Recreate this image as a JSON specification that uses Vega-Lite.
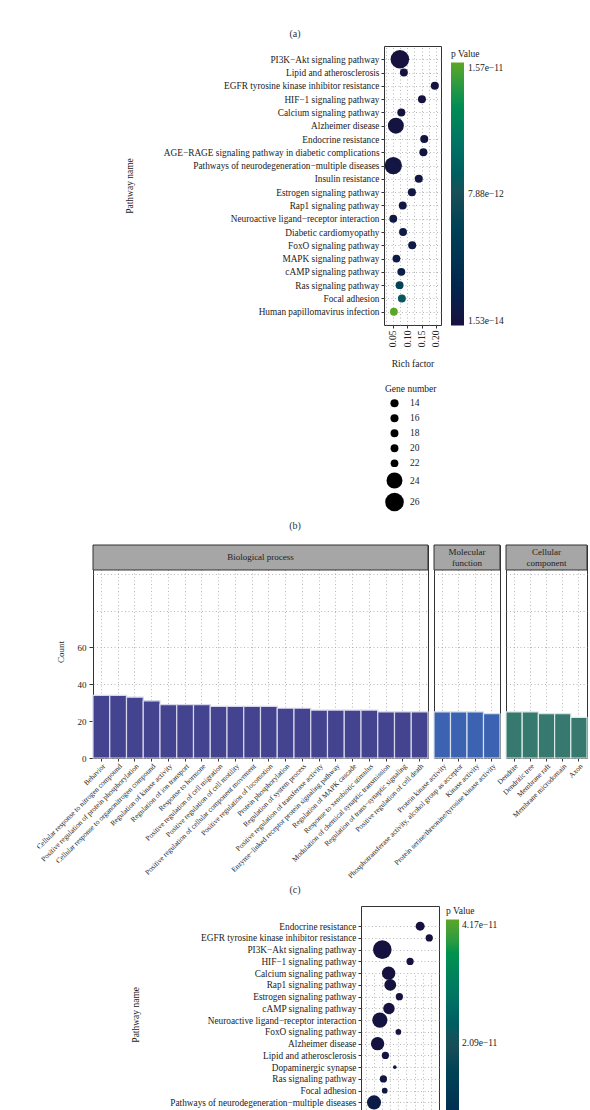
{
  "$schema": "https://vega.github.io/schema/vega-lite/v6.json",
  "background": "white",
  "padding": 0,
  "spacing": 0,
  "resolve": {"scale": {"color": "independent", "size": "independent"}, "legend": {"color": "independent", "size": "independent"}},
  "config": {
    "font": "Liberation Serif",
    "view": {"stroke": null},
    "axis": {"labelFont": "Liberation Serif", "titleFont": "Liberation Serif", "titleFontWeight": "normal", "labelColor": "#222", "titleColor": "#222", "tickColor": "#333", "domain": false, "gridColor": "#999", "gridDash": [1, 2.5], "gridWidth": 0.7},
    "legend": {"labelFont": "Liberation Serif", "titleFont": "Liberation Serif", "titleFontWeight": "normal", "labelColor": "#222", "titleColor": "#222"},
    "text": {"font": "Liberation Serif"}
  },
  "datasets": {
    "kegg_b": [
      {"pathway": "PI3K−Akt signaling pathway", "rich": 0.074, "p": 1.53e-14, "genes": 26},
      {"pathway": "Lipid and atherosclerosis", "rich": 0.088, "p": 1.0e-13, "genes": 18},
      {"pathway": "EGFR tyrosine kinase inhibitor resistance", "rich": 0.196, "p": 1.5e-13, "genes": 16},
      {"pathway": "HIF−1 signaling pathway", "rich": 0.151, "p": 2.0e-13, "genes": 16},
      {"pathway": "Calcium signaling pathway", "rich": 0.079, "p": 2.6e-13, "genes": 16},
      {"pathway": "Alzheimer disease", "rich": 0.060, "p": 3.1e-13, "genes": 24},
      {"pathway": "Endocrine resistance", "rich": 0.159, "p": 3.6e-13, "genes": 16},
      {"pathway": "AGE−RAGE signaling pathway in diabetic complications", "rich": 0.156, "p": 4.2e-13, "genes": 16},
      {"pathway": "Pathways of neurodegeneration−multiple diseases", "rich": 0.051, "p": 4.8e-13, "genes": 25},
      {"pathway": "Insulin resistance", "rich": 0.140, "p": 5.5e-13, "genes": 16},
      {"pathway": "Estrogen signaling pathway", "rich": 0.116, "p": 6.3e-13, "genes": 16},
      {"pathway": "Rap1 signaling pathway", "rich": 0.084, "p": 7.2e-13, "genes": 18},
      {"pathway": "Neuroactive ligand−receptor interaction", "rich": 0.051, "p": 8.1e-13, "genes": 20},
      {"pathway": "Diabetic cardiomyopathy", "rich": 0.085, "p": 9.2e-13, "genes": 18},
      {"pathway": "FoxO signaling pathway", "rich": 0.117, "p": 1.05e-12, "genes": 16},
      {"pathway": "MAPK signaling pathway", "rich": 0.062, "p": 1.2e-12, "genes": 20},
      {"pathway": "cAMP signaling pathway", "rich": 0.079, "p": 1.45e-12, "genes": 18},
      {"pathway": "Ras signaling pathway", "rich": 0.073, "p": 6.2e-12, "genes": 18},
      {"pathway": "Focal adhesion", "rich": 0.081, "p": 8.6e-12, "genes": 18},
      {"pathway": "Human papillomavirus infection", "rich": 0.053, "p": 1.57e-11, "genes": 20}
    ],
    "kegg_d": [
      {"pathway": "Endocrine resistance", "rich": 0.192, "p": 1.0e-14, "genes": 13},
      {"pathway": "EGFR tyrosine kinase inhibitor resistance", "rich": 0.220, "p": 3e-14, "genes": 10},
      {"pathway": "PI3K−Akt signaling pathway", "rich": 0.0755, "p": 5e-14, "genes": 40},
      {"pathway": "HIF−1 signaling pathway", "rich": 0.161, "p": 8e-14, "genes": 10},
      {"pathway": "Calcium signaling pathway", "rich": 0.095, "p": 1.2e-13, "genes": 23},
      {"pathway": "Rap1 signaling pathway", "rich": 0.100, "p": 1.8e-13, "genes": 19},
      {"pathway": "Estrogen signaling pathway", "rich": 0.128, "p": 2.5e-13, "genes": 10},
      {"pathway": "cAMP signaling pathway", "rich": 0.096, "p": 3.3e-13, "genes": 18},
      {"pathway": "Neuroactive ligand−receptor interaction", "rich": 0.068, "p": 4.2e-13, "genes": 28},
      {"pathway": "FoxO signaling pathway", "rich": 0.125, "p": 5.2e-13, "genes": 8},
      {"pathway": "Alzheimer disease", "rich": 0.061, "p": 6.5e-13, "genes": 23},
      {"pathway": "Lipid and atherosclerosis", "rich": 0.085, "p": 8e-13, "genes": 10},
      {"pathway": "Dopaminergic synapse", "rich": 0.114, "p": 1e-12, "genes": 6},
      {"pathway": "Ras signaling pathway", "rich": 0.079, "p": 1.3e-12, "genes": 10},
      {"pathway": "Focal adhesion", "rich": 0.083, "p": 1.7e-12, "genes": 8},
      {"pathway": "Pathways of neurodegeneration−multiple diseases", "rich": 0.050, "p": 3.2e-12, "genes": 25}
    ],
    "go": [
      {"cat": "BP", "term": "Behavior", "count": 34},
      {"cat": "BP", "term": "Cellular response to nitrogen compound", "count": 34},
      {"cat": "BP", "term": "Positive regulation of protein phosphorylation", "count": 33},
      {"cat": "BP", "term": "Cellular response to organonitrogen compound", "count": 31},
      {"cat": "BP", "term": "Regulation of kinase activity", "count": 29},
      {"cat": "BP", "term": "Regulation of ion transport", "count": 29},
      {"cat": "BP", "term": "Response to hormone", "count": 29},
      {"cat": "BP", "term": "Positive regulation of cell migration", "count": 28},
      {"cat": "BP", "term": "Positive regulation of cell motility", "count": 28},
      {"cat": "BP", "term": "Positive regulation of cellular component movement", "count": 28},
      {"cat": "BP", "term": "Positive regulation of locomotion", "count": 28},
      {"cat": "BP", "term": "Protein phosphorylation", "count": 27},
      {"cat": "BP", "term": "Regulation of system process", "count": 27},
      {"cat": "BP", "term": "Positive regulation of transferase activity", "count": 26},
      {"cat": "BP", "term": "Enzyme−linked receptor protein signaling pathway", "count": 26},
      {"cat": "BP", "term": "Regulation of MAPK cascade", "count": 26},
      {"cat": "BP", "term": "Response to xenobiotic stimulus", "count": 26},
      {"cat": "BP", "term": "Modulation of chemical synaptic transmission", "count": 25},
      {"cat": "BP", "term": "Regulation of trans−synaptic signaling", "count": 25},
      {"cat": "BP", "term": "Positive regulation of cell death", "count": 25},
      {"cat": "MF", "term": "Protein kinase activity", "count": 25},
      {"cat": "MF", "term": "Phosphotransferase activity, alcohol group as acceptor", "count": 25},
      {"cat": "MF", "term": "Kinase activity", "count": 25},
      {"cat": "MF", "term": "Protein serine/threonine/tyrosine kinase activity", "count": 24},
      {"cat": "CC", "term": "Dendrite", "count": 25},
      {"cat": "CC", "term": "Dendritic tree", "count": 25},
      {"cat": "CC", "term": "Membrane raft", "count": 24},
      {"cat": "CC", "term": "Membrane microdomain", "count": 24},
      {"cat": "CC", "term": "Axon", "count": 22}
    ]
  },
  "vconcat": [
    {"width": 590, "height": 22, "data": {"values": []}, "mark": "text", "encoding": {}},
    {"width": 590, "height": 23, "data": {"values": [{"label": "(a)"}]}, "mark": {"type": "text", "fontSize": 10, "color": "#333"}, "encoding": {"text": {"field": "label"}}},
    {
      "hconcat": [
        {"width": 384, "height": 472, "data": {"values": []}, "mark": "text", "encoding": {}},
        {
          "width": 57, "height": 279,
          "view": {"stroke": "#333", "strokeWidth": 1},
          "data": {"name": "kegg_b"},
          "mark": {"type": "circle", "opacity": 1},
          "encoding": {
            "x": {"field": "rich", "type": "quantitative",
              "scale": {"domain": [0.0186, 0.2175], "nice": false, "zero": false},
              "axis": {"title": "Rich factor", "values": [0.025, 0.05, 0.075, 0.1, 0.125, 0.15, 0.175, 0.2],
                "labelExpr": "abs(datum.value*20 - round(datum.value*20)) < 0.001 ? format(datum.value, '.2f') : ''",
                "tickOpacity": {"condition": {"test": "abs(datum.value*20 - round(datum.value*20)) > 0.001", "value": 0}, "value": 1},
                "labelAngle": 270, "labelFontSize": 9.5, "titleFontSize": 9.5, "tickSize": 3, "labelPadding": 2, "titlePadding": 12, "grid": true}},
            "y": {"field": "pathway", "type": "nominal", "sort": null,
              "scale": {"type": "point", "padding": 1.25},
              "axis": {"title": "Pathway name", "titleFontSize": 9.5, "titlePadding": 50, "labelFontSize": 9.3, "labelPadding": 2, "tickSize": 3, "labelLimit": 400, "grid": true}},
            "color": {"field": "p", "type": "quantitative",
              "scale": {"domain": [1.53e-14, 7.88e-12, 1.57e-11], "range": ["#16113e", "#1b4f57", "#5ba625"]},
              "legend": {"orient": "none", "legendX": 67, "legendY": 3, "title": "p Value", "titleFontSize": 9.5, "titlePadding": 4,
                "direction": "vertical", "gradientLength": 263, "gradientThickness": 13, "gradientStrokeWidth": 0,
                "values": [1.53e-14, 7.88e-12, 1.57e-11],
                "labelExpr": "replace(format(datum.value, '.2e'), '-', '−')", "labelFontSize": 9.5, "labelOffset": 4}},
            "size": {"field": "genes", "type": "quantitative",
              "scale": {"domain": [14, 22, 24, 26], "range": [66, 60, 254, 346], "zero": false},
              "legend": {"orient": "none", "legendX": 1, "legendY": 338, "title": "Gene number", "titleFontSize": 9.5,
                "values": [14, 16, 18, 20, 22, 24, 26], "symbolFillColor": "black", "symbolStrokeWidth": 0, "symbolOpacity": 1,
                "symbolType": "circle", "labelFontSize": 9.5, "labelOffset": 6, "rowPadding": 4, "direction": "vertical"}}
          }
        }
      ],
      "spacing": 0,
      "bounds": "flush",
      "resolve": {"scale": {"color": "independent", "size": "independent"}}
    },
    {"width": 590, "height": 16, "data": {"values": [{"label": "(b)"}]}, "mark": {"type": "text", "fontSize": 10, "color": "#333"}, "encoding": {"text": {"field": "label"}}},
    {"width": 590, "height": 10, "data": {"values": []}, "mark": "text", "encoding": {}},
    {
      "hconcat": [
        {"width": 87, "height": 333, "data": {"values": []}, "mark": "text", "encoding": {}},
        {
          "width": 335, "height": 213,
          "view": {"stroke": "#333", "strokeWidth": 1},
          "layer": [
            {
              "data": {"name": "go"},
              "transform": [{"filter": "datum.cat == 'BP'"}],
              "mark": {"type": "bar", "color": "#43438f", "stroke": "#d8d8ec", "strokeWidth": 1.2},
              "encoding": {
                "x": {"field": "term", "type": "nominal", "sort": null, "scale": {"paddingInner": 0, "paddingOuter": 0},
                  "axis": {"title": null, "labelAngle": -45, "labelFontSize": 7.3, "tickSize": 3, "labelPadding": 1, "grid": true, "labelLimit": 300}},
                "y": {"field": "count", "type": "quantitative", "scale": {"domain": [0, 115.56], "nice": false},
                  "axis": {"title": "Count", "values": [0, 10, 20, 30, 40, 50, 60, 70, 80, 90, 100],
                    "labelExpr": "datum.value <= 60 && datum.value % 20 == 0 ? datum.label : ''",
                    "tickOpacity": {"condition": {"test": "datum.value > 60 || datum.value % 20 != 0", "value": 0}, "value": 1},
                    "titleFontSize": 9, "labelFontSize": 9, "titlePadding": 12, "tickSize": 4, "labelPadding": 3, "grid": true}}
              }
            },
            {
              "data": {"values": [{"strip": "Biological process"}]},
              "mark": {"type": "rect", "fill": "#a6a6a6", "stroke": "#333", "strokeWidth": 1},
              "encoding": {"y": {"datum": 102, "type": "quantitative"}, "y2": {"datum": 115.56}}
            },
            {
              "data": {"values": [{"strip": "Biological process"}]},
              "mark": {"type": "text", "fontSize": 9, "color": "#222"},
              "encoding": {"text": {"field": "strip"}, "y": {"datum": 108.8, "type": "quantitative"}}
            }
          ]
        },
        {
          "width": 66, "height": 213,
          "view": {"stroke": "#333", "strokeWidth": 1},
          "layer": [
            {
              "data": {"name": "go"},
              "transform": [{"filter": "datum.cat == 'MF'"}],
              "mark": {"type": "bar", "color": "#3b63b1", "stroke": "#d8e0f0", "strokeWidth": 1.2},
              "encoding": {
                "x": {"field": "term", "type": "nominal", "sort": null, "scale": {"paddingInner": 0, "paddingOuter": 0},
                  "axis": {"title": null, "labelAngle": -45, "labelFontSize": 7.3, "tickSize": 3, "labelPadding": 1, "grid": true, "labelLimit": 300}},
                "y": {"field": "count", "type": "quantitative", "scale": {"domain": [0, 115.56], "nice": false},
                  "axis": {"title": null, "values": [0, 10, 20, 30, 40, 50, 60, 70, 80, 90, 100], "labels": false, "ticks": false, "grid": true}}
              }
            },
            {
              "data": {"values": [{"strip": "Molecular\nfunction"}]},
              "mark": {"type": "rect", "fill": "#a6a6a6", "stroke": "#333", "strokeWidth": 1},
              "encoding": {"y": {"datum": 102, "type": "quantitative"}, "y2": {"datum": 115.56}}
            },
            {
              "data": {"values": [{"strip": "Molecular\nfunction"}]},
              "mark": {"type": "text", "fontSize": 9, "color": "#222", "lineBreak": "\n", "lineHeight": 11},
              "encoding": {"text": {"field": "strip"}, "y": {"datum": 111.8, "type": "quantitative"}}
            }
          ]
        },
        {
          "width": 81, "height": 213,
          "view": {"stroke": "#333", "strokeWidth": 1},
          "layer": [
            {
              "data": {"name": "go"},
              "transform": [{"filter": "datum.cat == 'CC'"}],
              "mark": {"type": "bar", "color": "#37796f", "stroke": "#d8ece8", "strokeWidth": 1.2},
              "encoding": {
                "x": {"field": "term", "type": "nominal", "sort": null, "scale": {"paddingInner": 0, "paddingOuter": 0},
                  "axis": {"title": null, "labelAngle": -45, "labelFontSize": 7.3, "tickSize": 3, "labelPadding": 1, "grid": true, "labelLimit": 300}},
                "y": {"field": "count", "type": "quantitative", "scale": {"domain": [0, 115.56], "nice": false},
                  "axis": {"title": null, "values": [0, 10, 20, 30, 40, 50, 60, 70, 80, 90, 100], "labels": false, "ticks": false, "grid": true}}
              }
            },
            {
              "data": {"values": [{"strip": "Cellular\ncomponent"}]},
              "mark": {"type": "rect", "fill": "#a6a6a6", "stroke": "#333", "strokeWidth": 1},
              "encoding": {"y": {"datum": 102, "type": "quantitative"}, "y2": {"datum": 115.56}}
            },
            {
              "data": {"values": [{"strip": "Cellular\ncomponent"}]},
              "mark": {"type": "text", "fontSize": 9, "color": "#222", "lineBreak": "\n", "lineHeight": 11},
              "encoding": {"text": {"field": "strip"}, "y": {"datum": 111.8, "type": "quantitative"}}
            }
          ]
        }
      ],
      "spacing": 6,
      "bounds": "flush"
    },
    {"width": 590, "height": 20, "data": {"values": [{"label": "(c)"}]}, "mark": {"type": "text", "fontSize": 10, "color": "#333"}, "encoding": {"text": {"field": "label"}}},
    {"width": 590, "height": 5, "data": {"values": []}, "mark": "text", "encoding": {}},
    {
      "hconcat": [
        {"width": 361, "height": 10, "data": {"values": []}, "mark": "text", "encoding": {}},
        {
          "width": 78, "height": 270,
          "view": {"stroke": "#333", "strokeWidth": 1},
          "data": {"name": "kegg_d"},
          "mark": {"type": "circle", "opacity": 1},
          "encoding": {
            "x": {"field": "rich", "type": "quantitative",
              "scale": {"domain": [0.01, 0.25], "nice": false, "zero": false},
              "axis": {"title": "Rich factor", "values": [0.025, 0.05, 0.075, 0.1, 0.125, 0.15, 0.175, 0.2, 0.225],
                "labelExpr": "abs(datum.value*20 - round(datum.value*20)) < 0.001 ? format(datum.value, '.2f') : ''",
                "tickOpacity": {"condition": {"test": "abs(datum.value*20 - round(datum.value*20)) > 0.001", "value": 0}, "value": 1},
                "labelAngle": 270, "labelFontSize": 9.5, "titleFontSize": 9.5, "tickSize": 3, "grid": true}},
            "y": {"field": "pathway", "type": "nominal", "sort": null,
              "scale": {"type": "point", "range": [14.3, 202.3]},
              "axis": {"title": "Pathway name", "titleFontSize": 9.5, "titlePadding": 29, "labelFontSize": 9.3, "labelPadding": 2, "tickSize": 3, "labelLimit": 400, "grid": true}},
            "color": {"field": "p", "type": "quantitative",
              "scale": {"domain": [1.0e-14, 2.09e-11, 4.17e-11], "range": ["#16113e", "#1b4f57", "#5ba625"]},
              "legend": {"orient": "none", "legendX": 85, "legendY": 0, "title": "p Value", "titleFontSize": 9.5, "titlePadding": 4,
                "direction": "vertical", "gradientLength": 247, "gradientThickness": 13, "gradientStrokeWidth": 0,
                "values": [1.0e-14, 2.09e-11, 4.17e-11],
                "labelExpr": "replace(format(datum.value, '.2e'), '-', '−')", "labelFontSize": 9.5, "labelOffset": 3}},
            "size": {"field": "genes", "type": "quantitative",
              "scale": {"domain": [6, 40], "range": [13, 346], "zero": false},
              "legend": null}
          }
        }
      ],
      "spacing": 0,
      "bounds": "flush",
      "resolve": {"scale": {"color": "independent", "size": "independent"}}
    }
  ]
}
